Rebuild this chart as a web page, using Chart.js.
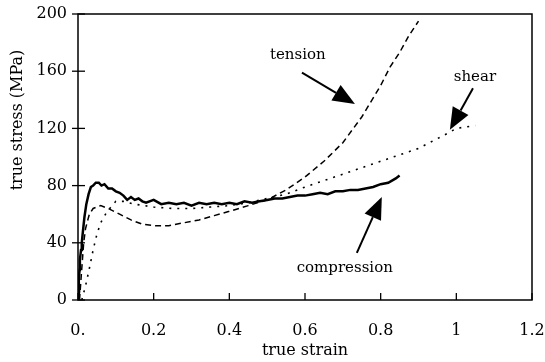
<!DOCTYPE html>
<html lang="en">
  <head>
    <meta charset="UTF-8" />
    <title>true stress vs true strain</title>
    <script src="https://cdn.jsdelivr.net/npm/chart.js"></script>
    <style>
      html, body { margin: 0; padding: 0; background: #fff; }
    </style>
  </head>
  <body>
    <div style="width: 545px; height: 362px">
      <canvas id="stressChart"></canvas>
    </div>
    <script>
      // values
      const compressionX = [0, 0.003, 0.002, 0.004, 0.005, 0.008, 0.01, 0.013, 0.017, 0.022, 0.028, 0.034, 0.04, 0.047, 0.055, 0.062, 0.07, 0.08, 0.09, 0.1, 0.11, 0.12, 0.13, 0.14, 0.15, 0.16, 0.17, 0.18, 0.2, 0.22, 0.24, 0.26, 0.28, 0.3, 0.32, 0.34, 0.36, 0.38, 0.4, 0.42, 0.44, 0.46, 0.48, 0.5, 0.52, 0.54, 0.56, 0.58, 0.6, 0.62, 0.64, 0.66, 0.68, 0.7, 0.72, 0.74, 0.76, 0.78, 0.8, 0.82, 0.84, 0.85];
      const compressionY = [0, 6, 13, 21, 28, 35, 40, 48, 58, 67, 74, 79, 80, 82, 82, 80, 81, 78, 78, 76, 75, 73, 70, 72, 70, 71, 69, 68, 70, 67, 68, 67, 68, 66, 68, 67, 68, 67, 68, 67, 69, 68, 69, 70, 71, 71, 72, 73, 73, 74, 75, 74, 76, 76, 77, 77, 78, 79, 81, 82, 85, 87];

      const tensionX = [0.004, 0.01, 0.015, 0.02, 0.03, 0.04, 0.05, 0.06, 0.08, 0.11, 0.14, 0.17, 0.2, 0.24, 0.28, 0.32, 0.36, 0.4, 0.45, 0.5, 0.55, 0.6, 0.65, 0.7, 0.75, 0.8, 0.825, 0.85, 0.875, 0.9];
      const tensionY = [0, 22, 40, 50, 60, 64, 65, 66, 64, 60, 56, 53, 52, 52, 54, 56, 59, 62, 66, 70, 77, 86, 97, 110, 128, 150, 163, 173, 185, 195];

      const shearX = [0.01, 0.02, 0.03, 0.04, 0.05, 0.06, 0.075, 0.09, 0.1, 0.12, 0.15, 0.2, 0.25, 0.3, 0.35, 0.4, 0.45, 0.5, 0.55, 0.6, 0.7, 0.8, 0.9, 0.98, 1.0, 1.05];
      const shearY = [0, 10, 22, 35, 46, 54, 61, 66, 69, 69, 67, 65, 64, 64, 65, 66, 68, 71, 74, 79, 88, 97, 106, 117, 120, 122];

      const xTicks = [0, 0.2, 0.4, 0.6, 0.8, 1, 1.2];
      const yTicks = [0, 40, 80, 120, 160, 200];
      const xTickLabels = ["0.", "0.2", "0.4", "0.6", "0.8", "1", "1.2"];

      const labelNames = ["tension", "shear", "compression"];

      // annotation placement (data units)
      const notes = [
        { text: "tension", at: [0.581, 171], tail: [0.592, 159], tip: [0.732, 137] },
        { text: "shear", at: [1.049, 156], tail: [1.044, 148], tip: [0.983, 119] },
        { text: "compression", at: [0.705, 22], tail: [0.737, 33], tip: [0.803, 72] },
      ];

      const pairs = (xs, ys) => xs.map((x, i) => ({ x: x, y: ys[i] }));
      const serif = "'DejaVu Serif', serif";

      const framePlugin = {
        id: "frame",
        afterDraw: (chart) => {
          const ctx = chart.ctx;
          const a = chart.chartArea;
          const sx = chart.scales.x;
          const sy = chart.scales.y;
          ctx.save();
          ctx.strokeStyle = "#000";
          ctx.lineWidth = 1.5;
          ctx.strokeRect(a.left, a.top, a.right - a.left, a.bottom - a.top);
          // ticks
          ctx.lineWidth = 1.3;
          yTicks.forEach((v) => {
            const y = sy.getPixelForValue(v);
            ctx.beginPath();
            ctx.moveTo(a.left - 6, y);
            ctx.lineTo(a.left + 7, y);
            ctx.stroke();
          });
          xTicks.forEach((v) => {
            const x = sx.getPixelForValue(v);
            ctx.beginPath();
            ctx.moveTo(x, a.bottom);
            ctx.lineTo(x, a.bottom - 7);
            ctx.stroke();
          });

          // y title
          ctx.fillStyle = "#000";
          ctx.font = "16px " + serif;
          ctx.translate(18, 120);
          ctx.rotate(-Math.PI / 2);
          ctx.textAlign = "center";
          ctx.textBaseline = "middle";
          ctx.fillText("true stress (MPa)", 0, 0);
          ctx.restore();

          // annotations with arrows
          ctx.save();
          ctx.fillStyle = "#000";
          ctx.strokeStyle = "#000";
          ctx.font = "15px " + serif;
          ctx.textAlign = "center";
          ctx.textBaseline = "middle";
          notes.forEach((n) => {
            ctx.fillText(n.text, sx.getPixelForValue(n.at[0]), sy.getPixelForValue(n.at[1]));
            const x0 = sx.getPixelForValue(n.tail[0]);
            const y0 = sy.getPixelForValue(n.tail[1]);
            const x1 = sx.getPixelForValue(n.tip[0]);
            const y1 = sy.getPixelForValue(n.tip[1]);
            const ang = Math.atan2(y1 - y0, x1 - x0);
            const len = 22;
            const half = 9;
            const bx = x1 - len * Math.cos(ang);
            const by = y1 - len * Math.sin(ang);
            ctx.lineWidth = 2;
            ctx.beginPath();
            ctx.moveTo(x0, y0);
            ctx.lineTo(bx, by);
            ctx.stroke();
            ctx.beginPath();
            ctx.moveTo(x1, y1);
            ctx.lineTo(bx + half * Math.sin(ang), by - half * Math.cos(ang));
            ctx.lineTo(bx - half * Math.sin(ang), by + half * Math.cos(ang));
            ctx.closePath();
            ctx.fill();
          });
          ctx.restore();
        },
      };

      const ctx = document.getElementById("stressChart").getContext("2d");
      new Chart(ctx, {
        type: "scatter",
        data: {
          datasets: [
            {
              label: labelNames[0],
              data: pairs(tensionX, tensionY),
              showLine: true,
              borderColor: "#000",
              borderWidth: 1.5,
              borderDash: [6, 4],
              pointRadius: 0,
            },
            {
              label: labelNames[1],
              data: pairs(shearX, shearY),
              showLine: true,
              borderColor: "#000",
              borderWidth: 1.6,
              borderDash: [2, 6],
              pointRadius: 0,
            },
            {
              label: labelNames[2],
              data: pairs(compressionX, compressionY),
              showLine: true,
              borderColor: "#000",
              borderWidth: 2.5,
              pointRadius: 0,
            },
          ],
        },
        options: {
          responsive: true,
          maintainAspectRatio: false,
          animation: false,
          layout: { padding: { top: 14, right: 13, left: 0, bottom: 0 } },
          plugins: {
            legend: { display: false },
            tooltip: { enabled: false },
          },
          scales: {
            x: {
              type: "linear",
              min: 0,
              max: 1.2,
              afterBuildTicks: (scale) => {
                scale.ticks = xTicks.map((v) => ({ value: v }));
              },
              afterFit: (scale) => {
                scale.height = 62;
                scale.paddingLeft = 0;
                scale.paddingRight = 0;
              },
              grid: { display: false, drawTicks: false },
              border: { display: false },
              ticks: {
                color: "#000",
                font: { family: serif, size: 16 },
                padding: 21,
                maxRotation: 0,
                callback: (v, i) => xTickLabels[i],
              },
              title: {
                display: true,
                text: "true strain",
                color: "#000",
                font: { family: serif, size: 16 },
                padding: { top: 0, bottom: 2 },
              },
            },
            y: {
              type: "linear",
              min: 0,
              max: 200,
              afterBuildTicks: (scale) => {
                scale.ticks = yTicks.map((v) => ({ value: v }));
              },
              afterFit: (scale) => {
                scale.width = 78;
                scale.paddingTop = 0;
                scale.paddingBottom = 0;
              },
              grid: { display: false, drawTicks: false },
              border: { display: false },
              ticks: {
                color: "#000",
                font: { family: serif, size: 16 },
                padding: 11,
              },
            },
          },
        },
        plugins: [framePlugin],
      });
    </script>
  </body>
</html>
